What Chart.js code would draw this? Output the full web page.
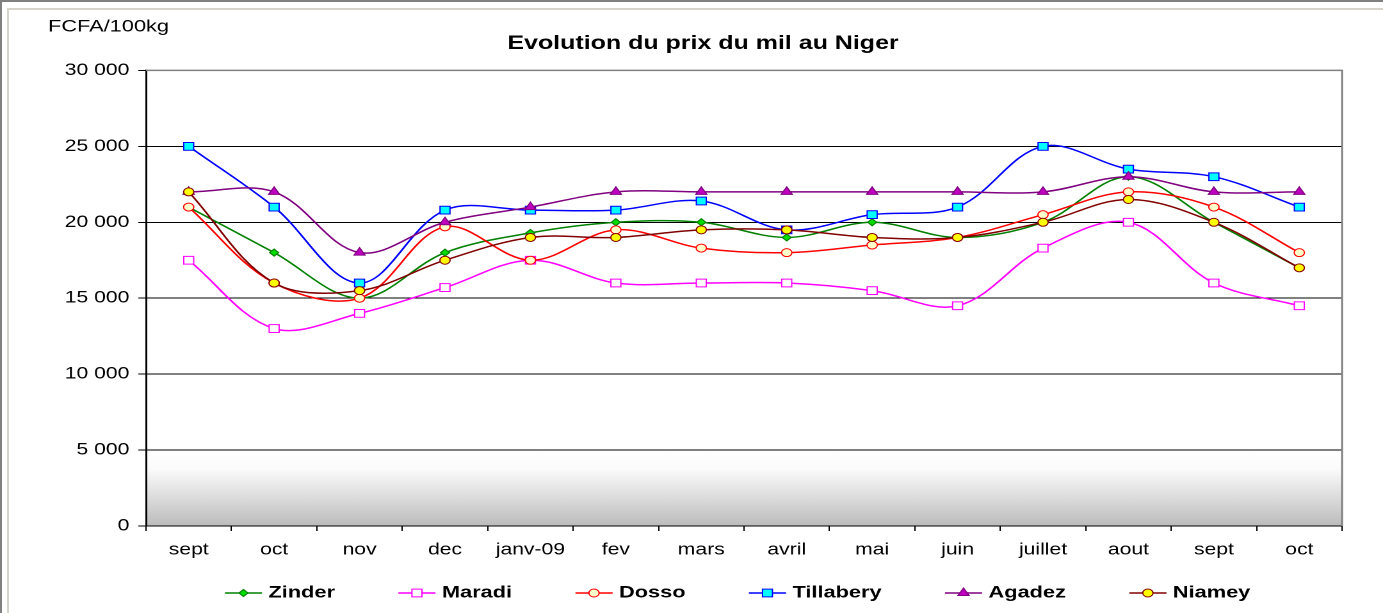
<!DOCTYPE html>
<html lang="fr">
<head>
  <meta charset="UTF-8" />
  <title>Evolution du prix du mil au Niger</title>
  <script src="https://cdn.jsdelivr.net/npm/chart.js"></script>
  <style>
    body { margin: 0; background: #fff; overflow: hidden; }
    .bar { position: absolute; }
    #prixChart { position: absolute; left: 0; top: 0; }
  </style>
</head>
<body>
  <!-- cadre de la feuille -->
  <div class="bar" style="left:0;top:0;width:1383px;height:2px;background:#808080"></div>
  <div class="bar" style="left:0;top:0;width:2px;height:613px;background:#808080"></div>
  <div class="bar" style="left:7px;top:8px;width:1376px;height:2px;background:#d6d3cb"></div>
  <div class="bar" style="left:7px;top:8px;width:2px;height:605px;background:#d6d3cb"></div>

  <!-- the original picture is stretched sideways: canvas is drawn narrower and widened by inline css -->
  <canvas id="prixChart" width="1080" height="613" style="width:1383px;height:613px"></canvas>

  <script>
    const mois = ['sept', 'oct', 'nov', 'dec', 'janv-09', 'fev', 'mars', 'avril', 'mai', 'juin', 'juillet', 'aout', 'sept', 'oct'];

    const zinder    = [21000, 18000, 15000, 18000, 19300, 20000, 20000, 19000, 20000, 19000, 20000, 23000, 20000, 17000];
    const maradi    = [17500, 13000, 14000, 15700, 17500, 16000, 16000, 16000, 15500, 14500, 18300, 20000, 16000, 14500];
    const dosso     = [21000, 16000, 15000, 19700, 17500, 19500, 18300, 18000, 18500, 19000, 20500, 22000, 21000, 18000];
    const tillabery = [25000, 21000, 16000, 20800, 20800, 20800, 21400, 19500, 20500, 21000, 25000, 23500, 23000, 21000];
    const agadez    = [22000, 22000, 18000, 20000, 21000, 22000, 22000, 22000, 22000, 22000, 22000, 23000, 22000, 22000];
    const niamey    = [22000, 16000, 15500, 17500, 19000, 19000, 19500, 19500, 19000, 19000, 20000, 21500, 20000, 17000];

    const yTickLabels = ['0', '5 000', '10 000', '15 000', '20 000', '25 000', '30 000'];

    const FONT = '"Liberation Sans", Arial, sans-serif';
    Chart.defaults.font.family = FONT;
    Chart.defaults.color = '#000';

    function serie(label, data, line, fill, style, radius, i) {
      return {
        label: label,
        data: data,
        borderColor: line,
        backgroundColor: fill,
        borderWidth: 1.5,
        pointStyle: style,
        pointRadius: radius,
        pointBackgroundColor: fill,
        pointBorderColor: line,
        pointBorderWidth: 1,
        tension: 0.35,
        order: 5 - i
      };
    }

    const datasets = [
      serie('Zinder', zinder, '#008000', '#00dd00', 'rectRot', 3.5, 0),
      serie('Maradi', maradi, '#ff00ff', '#ffffff', 'rect', 5.5, 1),
      serie('Dosso', dosso, '#ff0000', '#ffffcc', 'circle', 4, 2),
      serie('Tillabery', tillabery, '#0000ff', '#00ffff', 'rect', 5.5, 3),
      serie('Agadez', agadez, '#800080', '#c000c0', 'triangle', 5, 4),
      serie('Niamey', niamey, '#800000', '#ffff00', 'circle', 4, 5)
    ];

    // fond degrade sous 5 000, cadre gris, unite et legende
    const decor = {
      id: 'decor',
      beforeDraw(chart) {
        const { ctx, chartArea, scales } = chart;
        const y1 = scales.y.getPixelForValue(5000);
        const y0 = scales.y.getPixelForValue(0);
        const grad = ctx.createLinearGradient(0, y1, 0, y0);
        grad.addColorStop(0, '#ffffff');
        grad.addColorStop(0.25, '#fbfbfb');
        grad.addColorStop(1, '#bcbcbc');
        ctx.save();
        ctx.fillStyle = grad;
        ctx.fillRect(chartArea.left, y1, chartArea.right - chartArea.left, y0 - y1);
        ctx.restore();
      },
      beforeDatasetsDraw(chart) {
        const { ctx, chartArea } = chart;
        ctx.save();
        ctx.strokeStyle = '#808080';
        ctx.lineWidth = 1.5;
        ctx.beginPath();
        ctx.moveTo(chartArea.left, chartArea.top);
        ctx.lineTo(chartArea.right, chartArea.top);
        ctx.lineTo(chartArea.right, chartArea.bottom);
        ctx.stroke();
        ctx.restore();
      },
      afterDraw(chart) {
        const { ctx, chartArea } = chart;
        ctx.save();
        ctx.fillStyle = '#000';
        ctx.textBaseline = 'middle';
        ctx.font = '17px ' + FONT;
        ctx.fillText('FCFA/100kg', 37.5, 27);

        // legende
        const lineLen = 29, gapText = 5, gapItem = 49.5, yLeg = 593;
        ctx.font = 'bold 17px ' + FONT;
        const ds = chart.data.datasets;
        const widths = ds.map(d => lineLen + gapText + ctx.measureText(d.label).width);
        const total = widths.reduce((a, b) => a + b, 0) + gapItem * (ds.length - 1);
        let x = (chartArea.left + chartArea.right) / 2 - 5 - total / 2;
        ds.forEach((d, i) => {
          ctx.strokeStyle = d.borderColor;
          ctx.lineWidth = 1.5;
          ctx.beginPath();
          ctx.moveTo(x, yLeg);
          ctx.lineTo(x + lineLen, yLeg);
          ctx.stroke();
          ctx.fillStyle = d.pointBackgroundColor;
          ctx.strokeStyle = d.pointBorderColor;
          ctx.lineWidth = 1;
          Chart.helpers.drawPoint(ctx, { pointStyle: d.pointStyle, radius: d.pointRadius, rotation: 0, borderWidth: 1 }, x + lineLen / 2, yLeg);
          ctx.fillStyle = '#000';
          ctx.fillText(d.label, x + lineLen + gapText, yLeg);
          x += widths[i] + gapItem;
        });
        ctx.restore();
      }
    };

    new Chart(document.getElementById('prixChart'), {
      type: 'line',
      data: { labels: mois, datasets: datasets },
      options: {
        responsive: false,
        devicePixelRatio: 2,
        animation: false,
        layout: { padding: { left: 50, right: 32, top: 0, bottom: 54 } },
        plugins: {
          legend: { display: false },
          tooltip: { enabled: false },
          title: {
            display: true,
            text: 'Evolution du prix du mil au Niger',
            color: '#000',
            font: { size: 19.5, weight: 'bold' },
            padding: { top: 32, bottom: 15 }
          }
        },
        scales: {
          x: {
            offset: true,
            grid: { offset: true, drawOnChartArea: false, color: '#000', tickLength: 5 },
            border: { color: '#000', width: 1 },
            ticks: { autoSkip: false, maxRotation: 0, padding: 9, font: { size: 16.5 } },
            afterFit(scale) { scale.height = 33; }
          },
          y: {
            min: 0,
            max: 30000,
            grid: {
              color: ctx => ctx.tick && ctx.tick.value === 30000 ? '#808080' : '#000',
              tickColor: '#000',
              tickLength: 6,
              lineWidth: 1
            },
            border: { color: '#000', width: 1.5 },
            ticks: {
              stepSize: 5000,
              padding: 7,
              font: { size: 16.5 },
              callback: v => yTickLabels[v / 5000]
            },
            afterFit(scale) { scale.width = 64; }
          }
        }
      },
      plugins: [decor]
    });
  </script>
</body>
</html>
